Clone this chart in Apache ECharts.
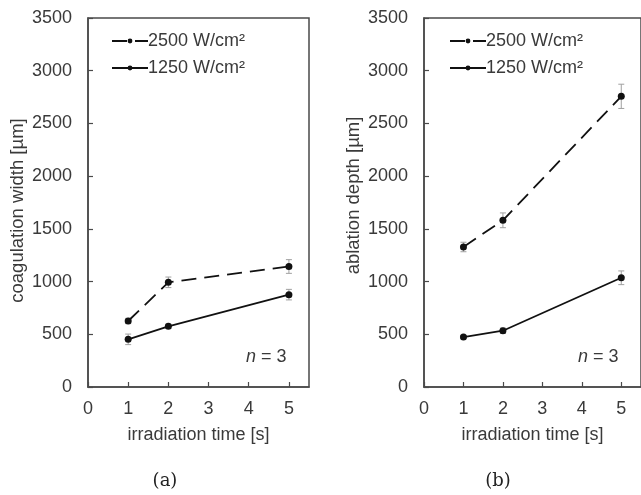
<!DOCTYPE html>
<html><head><meta charset="utf-8">
<script src="https://cdn.jsdelivr.net/npm/echarts@6/dist/echarts.min.js"></script>
<style>html,body{margin:0;padding:0;background:#fff}#c{width:641px;height:495px}</style>
</head><body><div id="c"></div>
<script>
const times = [1, 2, 5];
const xTicks = [0, 1, 2, 3, 4, 5];
const seriesNames = ['2500 W/cm²', '1250 W/cm²'];
// panel (a): coagulation width [µm]
const coagHigh = [626, 993, 1143];
const coagHighErr = [25, 50, 65];
const coagLow = [452, 576, 876];
const coagLowErr = [50, 20, 50];
// panel (b): ablation depth [µm]
const ablHigh = [1328, 1581, 2757];
const ablHighErr = [45, 70, 115];
const ablLow = [474, 534, 1036];
const ablLowErr = [15, 25, 65];

const TXT = '#3a3a3a', AX = '#4a4a4a', FONT = 'Liberation Sans, Arial, sans-serif';
const chart = echarts.init(document.getElementById('c'));

function pairs(v) { return times.map((t, i) => [t, v[i]]); }
function errData(v, e) { return times.map((t, i) => [t, v[i] - e[i], v[i] + e[i]]); }

function errSeries(idx, v, e) {
  return {
    type: 'custom', xAxisIndex: idx, yAxisIndex: idx, z: 1, silent: true,
    data: errData(v, e),
    renderItem: function (params, api) {
      const lo = api.coord([api.value(0), api.value(1)]);
      const hi = api.coord([api.value(0), api.value(2)]);
      const w = 3;
      const st = { stroke: '#a0a0a0', lineWidth: 1 };
      return { type: 'group', children: [
        { type: 'line', shape: { x1: lo[0], y1: lo[1], x2: hi[0], y2: hi[1] }, style: st },
        { type: 'line', shape: { x1: lo[0] - w, y1: lo[1], x2: lo[0] + w, y2: lo[1] }, style: st },
        { type: 'line', shape: { x1: hi[0] - w, y1: hi[1], x2: hi[0] + w, y2: hi[1] }, style: st }
      ]};
    }
  };
}
function lineSeries(idx, name, v, dashed) {
  return {
    type: 'line', name: name, xAxisIndex: idx, yAxisIndex: idx, z: 3,
    data: pairs(v), symbol: 'circle', symbolSize: 7,
    itemStyle: { color: '#111' },
    lineStyle: { color: '#111', width: 1.8, type: dashed ? [15, 8] : 'solid' }
  };
}
function xAxis(idx) {
  return {
    type: 'value', gridIndex: idx, min: 0, max: 5.5, interval: 1,
    name: 'irradiation time [s]', nameLocation: 'middle', nameGap: 39,
    nameTextStyle: { color: TXT, fontSize: 18, fontFamily: FONT },
    axisLine: { show: true, lineStyle: { color: AX, width: 1.5 } },
    axisTick: { show: true, inside: true, length: 5, lineStyle: { color: AX, width: 1.2 },
      customValues: xTicks },
    axisLabel: { color: TXT, fontSize: 18, fontFamily: FONT, margin: 13, customValues: xTicks },
    splitLine: { show: false }
  };
}
function yAxis(idx, name, gap, pad) {
  return {
    type: 'value', gridIndex: idx, min: 0, max: 3500, interval: 500,
    name: name, nameLocation: 'middle', nameGap: gap,
    nameTextStyle: { color: TXT, fontSize: 18.5, fontFamily: FONT, padding: pad },
    axisLine: { show: true, lineStyle: { color: AX, width: 1.5 } },
    axisTick: { show: true, inside: true, length: 5, lineStyle: { color: AX, width: 1.2 } },
    axisLabel: { color: TXT, fontSize: 18, fontFamily: FONT, margin: 16, formatter: v => String(v) },
    splitLine: { show: false }
  };
}
function legend(left, names) {
  return {
    left: left, top: 27, orient: 'vertical', itemGap: 9, itemWidth: 36, itemHeight: 6,
    data: names.map(n => ({ name: n })),
    textStyle: { color: TXT, fontSize: 18, fontFamily: FONT, padding: [0, 0, 0, -5] },
    selectedMode: false
  };
}
function nText(left) {
  return { type: 'text', left: left, top: 348, style: { text: '{i|n} = 3', fill: TXT, font: '18px ' + FONT,
    rich: { i: { fontStyle: 'italic', fontSize: 18, fontFamily: FONT, fill: TXT } } } };
}

const option = {
  animation: false,
  backgroundColor: '#fff',
  grid: [
    { left: 88, top: 18, width: 221, height: 369, show: true, borderColor: AX, borderWidth: 1.5 },
    { left: 424, top: 18, width: 222, height: 369, show: true, borderColor: AX, borderWidth: 1.5 }
  ],
  xAxis: [xAxis(0), xAxis(1)],
  yAxis: [yAxis(0, 'coagulation width [µm]', 61, [0, 16, 0, 0]),
          yAxis(1, 'ablation depth [µm]', 61, [0, 0, 0, 14])],
  legend: [
    legend(106, seriesNames),
    legend(444, seriesNames.map(n => n + ' '))
  ],
  title: [
    { text: '(a)', left: 160, top: 467, textAlign: 'center',
      textStyle: { fontFamily: 'DejaVu Serif, serif', fontWeight: 'normal', fontSize: 18, color: '#222' } },
    { text: '(b)', left: 493, top: 467, textAlign: 'center',
      textStyle: { fontFamily: 'DejaVu Serif, serif', fontWeight: 'normal', fontSize: 18, color: '#222' } }
  ],
  graphic: [nText(246), nText(578)],
  series: [
    errSeries(0, coagHigh, coagHighErr), errSeries(0, coagLow, coagLowErr),
    lineSeries(0, seriesNames[0], coagHigh, true), lineSeries(0, seriesNames[1], coagLow, false),
    errSeries(1, ablHigh, ablHighErr), errSeries(1, ablLow, ablLowErr),
    lineSeries(1, seriesNames[0] + ' ', ablHigh, true), lineSeries(1, seriesNames[1] + ' ', ablLow, false)
  ]
};
chart.setOption(option);
</script></body></html>
